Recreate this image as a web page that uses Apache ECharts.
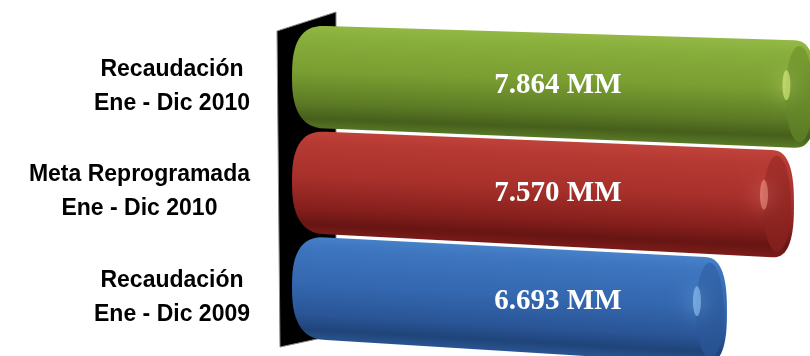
<!DOCTYPE html>
<html><head><meta charset="utf-8">
<script src="https://cdn.jsdelivr.net/npm/echarts@6/dist/echarts.min.js"></script>
<style>html,body{margin:0;padding:0;background:#fff}#c{width:810px;height:356px}</style>
</head><body><div id="c"></div>
<script>
// ---- data ----
const categories = ['Recaudación\nEne - Dic 2010', 'Meta Reprogramada\nEne - Dic 2010', 'Recaudación\nEne - Dic 2009'];
const values = [7.864, 7.570, 6.693];
const unitSuffix = ' MM';
const axisMin = 1;
const axisMax = 7.78;

// ---- styles ----
const palettes = [
  { stops: ['#93b846', '#88ae3c', '#7a9e31', '#5c7b25', '#465f1b', '#587826'], face: ['#7a9e31', '#5a7a24'], hl: '#e6fa8c' },
  { stops: ['#c0433b', '#b63a33', '#a8302b', '#851f1c', '#671513', '#7a1c19'], face: ['#a52f2a', '#801e1b'], hl: '#f79a8e' },
  { stops: ['#4781c9', '#3d75be', '#3468b0', '#2a5597', '#1f4479', '#2a5592'], face: ['#3468b0', '#27508f'], hl: '#9ccfff' }
];
const stopOffsets = [0, 0.12, 0.45, 0.75, 0.9, 1];

function renderItem(params, api) {
  const pal = palettes[params.dataIndex];
  const v = api.value(0), ci = api.value(1);
  const p0 = api.coord([axisMin, ci]);
  const p1 = api.coord([v, ci]);
  const band = api.size([0, 1])[1];
  const xL = p0[0], xR = p1[0], c = p0[1];
  const topL = c - 0.585 * band, botL = c + 0.385 * band;
  const slope = y => 0.03 + 0.0001 * (y - 20);
  const st = slope(topL), sb = slope(botL);
  const P = (x, t) => { const a = topL + st * (x - xL), b = botL + sb * (x - xL); return [x, a + t * (b - a)]; };
  const n = 2.6, rl = 34, rr = 22;
  const se = a => Math.sign(a) * Math.pow(Math.abs(a), 2 / n);
  const pts = [];
  for (let k = 0; k <= 30; k++) { const th = -Math.PI / 2 + Math.PI * k / 30; pts.push(P(xR - rr + rr * se(Math.cos(th)), 0.5 + 0.5 * se(Math.sin(th)))); }
  for (let k = 0; k <= 30; k++) { const th = Math.PI / 2 - Math.PI * k / 30; pts.push(P(xL + rl - rl * se(Math.cos(th)), 0.5 + 0.5 * se(Math.sin(th)))); }

  const xm = (xL + xR) / 2;
  const mt = P(xm, 0), mb = P(xm, 1);
  const h = mb[1] - mt[1], m = (st + sb) / 2, ym = (mt[1] + mb[1]) / 2;
  const bodyFill = new echarts.graphic.LinearGradient(xm + m * h / 2, ym - h / 2, xm - m * h / 2, ym + h / 2,
    pal.stops.map((col, i) => ({ offset: stopOffsets[i], color: col })), true);

  const xf = xR - 17, rxf = 14;
  const facePts = [];
  for (let k = 0; k < 40; k++) { const th = 2 * Math.PI * k / 40; facePts.push(P(xf + rxf * Math.cos(th), 0.5 + 0.45 * Math.sin(th))); }

  const hc = P(xf - rxf + 1, 0.42);
  const hTop = P(xf, 0)[1], hBot = P(xf, 1)[1];
  const hry = (hBot - hTop) * 0.14;

  const lx = api.coord([(axisMin + axisMax) / 2 + 0.09, ci])[0];
  const ly = P(lx, 0.5)[1];

  return {
    type: 'group',
    children: [
      { type: 'polygon', shape: { points: pts }, style: { fill: bodyFill } },
      { type: 'polygon', shape: { points: facePts }, style: { fill: new echarts.graphic.LinearGradient(0, 0, 0, 1, [{ offset: 0, color: pal.face[0] }, { offset: 1, color: pal.face[1] }]) } },
      { type: 'ellipse', shape: { cx: hc[0], cy: hc[1], rx: 4, ry: hry }, style: { fill: pal.hl, opacity: 0.55, shadowBlur: 20, shadowColor: pal.hl } },
      { type: 'text', style: { text: v.toFixed(3) + unitSuffix, x: lx, y: ly, fill: '#ffffff', font: 'bold 29px "Liberation Serif", "Times New Roman", serif', align: 'center', verticalAlign: 'middle' } }
    ]
  };
}

const chart = echarts.init(document.getElementById('c'), null, { renderer: 'canvas' });
chart.setOption({
  animation: false,
  backgroundColor: '#ffffff',
  grid: { left: 292, right: 0, top: 34, bottom: 6 },
  xAxis: { type: 'value', min: axisMin, max: axisMax, show: false },
  yAxis: {
    type: 'category', data: categories, inverse: true,
    axisLine: { show: false }, axisTick: { show: false }, splitLine: { show: false },
    axisLabel: {
      margin: 42, align: 'right',
      formatter: v => v.split('\n').map(l => '{a|' + l + '}').join('\n'),
      rich: { a: { align: 'center', fontFamily: '"Liberation Sans", Arial, sans-serif', fontWeight: 'bold', fontSize: 23, lineHeight: 34, color: '#000' } }
    }
  },
  graphic: [
    { type: 'polygon', z: 0, shape: { points: [[277, 31], [336, 12], [336, 335], [280, 347]] }, style: { fill: '#000', stroke: '#8a8a8a', lineWidth: 1 } }
  ],
  series: [{
    type: 'custom', z: 5, clip: false,
    renderItem: renderItem,
    encode: { x: 0, y: 1 },
    data: values.map((v, i) => [v, i])
  }]
});
</script></body></html>
